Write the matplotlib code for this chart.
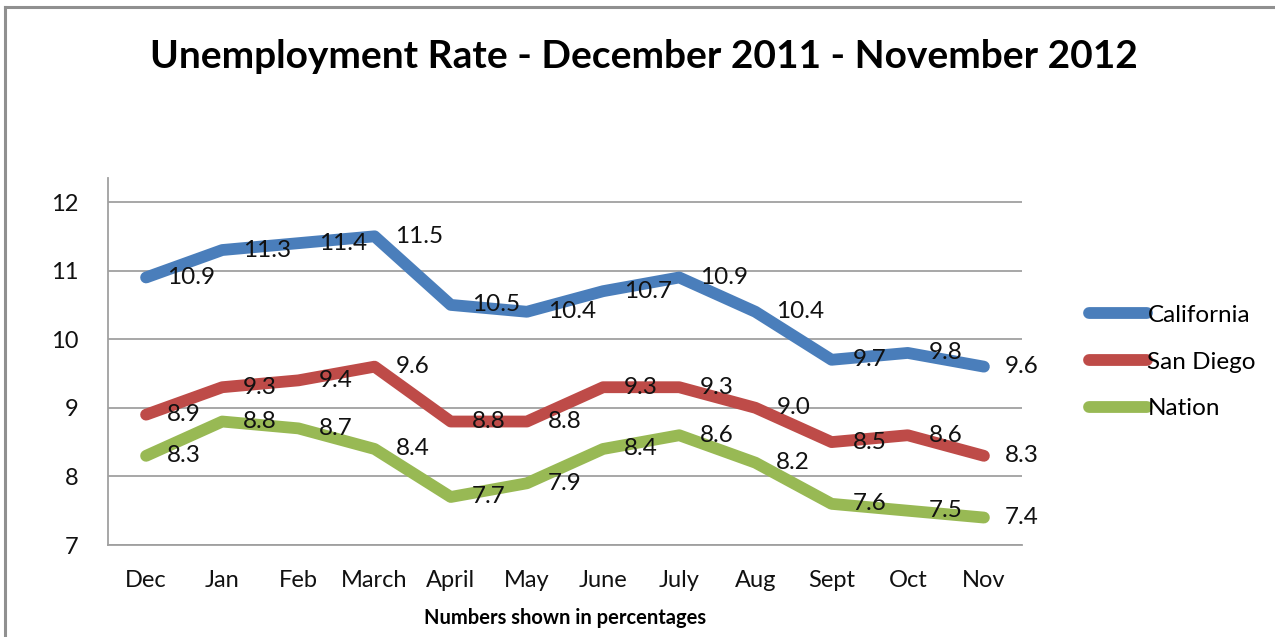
import matplotlib.pyplot as plt
from matplotlib.lines import Line2D

months = ['Dec', 'Jan', 'Feb', 'March', 'April', 'May', 'June', 'July', 'Aug', 'Sept', 'Oct', 'Nov']
california = [10.9, 11.3, 11.4, 11.5, 10.5, 10.4, 10.7, 10.9, 10.4, 9.7, 9.8, 9.6]
san_diego = [8.9, 9.3, 9.4, 9.6, 8.8, 8.8, 9.3, 9.3, 9.0, 8.5, 8.6, 8.3]
nation = [8.3, 8.8, 8.7, 8.4, 7.7, 7.9, 8.4, 8.6, 8.2, 7.6, 7.5, 7.4]
yticks = [7, 8, 9, 10, 11, 12]

series = [
    ('California', california, '#4A7EBB'),
    ('San Diego', san_diego, '#BE4B48'),
    ('Nation', nation, '#98B954'),
]

plt.rcParams['font.family'] = ['Lato', 'DejaVu Sans']

fig = plt.figure(figsize=(12.75, 6.37), dpi=100)
ax = fig.add_axes([108 / 1275, 1 - 545 / 637, (1022 - 108) / 1275, (545 - 178) / 637])

x = range(len(months))
for name, vals, color in series:
    ax.plot(x, vals, color=color, lw=8.5, solid_capstyle='round',
            solid_joinstyle='round', label=name, zorder=3)
    for i, v in enumerate(vals):
        ax.annotate(f'{v:.1f}', (i, v), xytext=(15, 0), textcoords='offset points',
                    ha='left', va='center', fontsize=17.5, color='#111111', zorder=4)

ax.set_xlim(-0.5, len(months) - 0.5)
ax.set_ylim(7, 12.35)
ax.set_yticks(yticks)
ax.set_xticks(list(x))
ax.set_xticklabels(months)
ax.tick_params(axis='both', length=0, labelsize=17, colors='#111111')
ax.tick_params(axis='x', pad=18)
ax.tick_params(axis='y', pad=21)
ax.yaxis.grid(True, color='#a0a0a0', lw=1.3)
ax.set_axisbelow(True)
for s in ['top', 'right']:
    ax.spines[s].set_visible(False)
for s in ['left', 'bottom']:
    ax.spines[s].set_color('#a0a0a0')
    ax.spines[s].set_linewidth(1.3)

ax.set_xlabel('Numbers shown in percentages', fontsize=14.5, fontweight='bold', labelpad=12)

fig.text(644 / 1275, 1 - 57 / 637, 'Unemployment Rate - December 2011 - November 2012',
         ha='center', va='center', fontsize=28, fontweight='bold')

ax.legend(loc='center left', bbox_to_anchor=(1077 / 1275, 1 - 362 / 637),
          bbox_transform=fig.transFigure, frameon=False, fontsize=17.5,
          handlelength=2.4, handletextpad=0.0, labelspacing=1.05, borderpad=0)

# outer chart frame (only left and top edges visible in the crop)
fig.add_artist(Line2D([5 / 1275, 5 / 1275], [0, 1 - 7 / 637], color='#909090', lw=2.2,
                      transform=fig.transFigure))
fig.add_artist(Line2D([5 / 1275, 1], [1 - 7 / 637, 1 - 7 / 637], color='#909090', lw=2.2,
                      transform=fig.transFigure))

fig.savefig('out.png', dpi=100)
